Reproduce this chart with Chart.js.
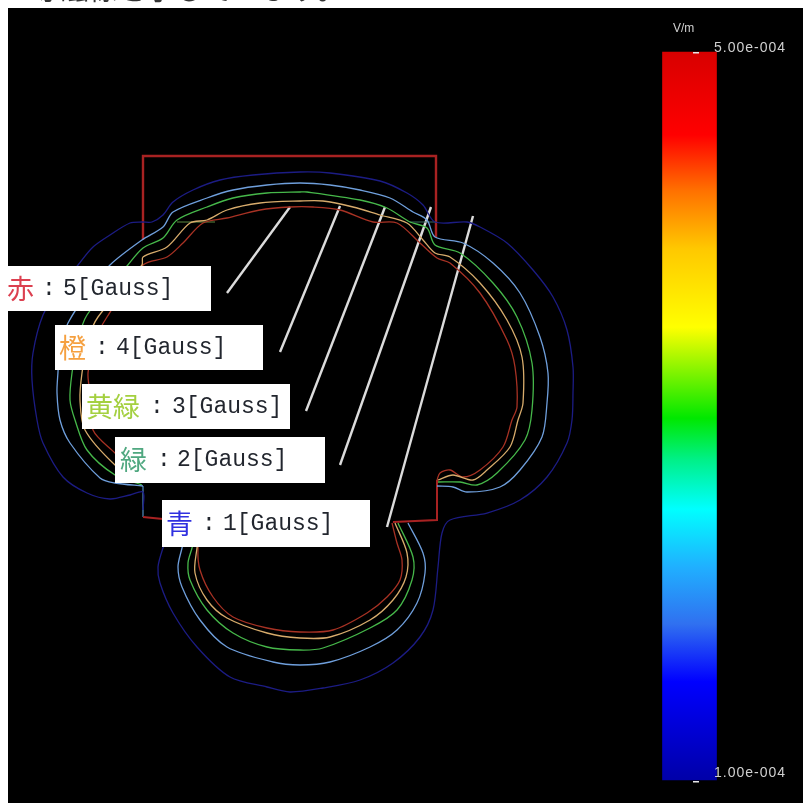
<!DOCTYPE html>
<html>
<head>
<meta charset="utf-8">
<title>contour</title>
<style>
  html, body { margin: 0; padding: 0; background: #fff; }
  canvas { display: block; filter: blur(0.45px); }
</style>
<script src="https://cdn.jsdelivr.net/npm/chart.js@4"></script>
</head>
<body>
<canvas id="plot" width="803" height="803"></canvas>
<script>
// contour lines as [x, y] pairs
const gauss1 = [[143,510],[143,492],[130,495],[110,499],[87,493],[63,477],[43,443],[37,420],[32,380],[33,353],[43,315],[60,288],[78,265],[93,247],[110,235],[130,223],[142,222],[152,222],[163,215],[173,202],[193,190],[220,180],[253,175],[300,172],[330,173],[380,181],[407,193],[423,205],[435,222],[467,222],[480,227],[507,243],[533,270],[553,297],[567,330],[573,367],[573,393],[572,420],[567,443],[547,477],[520,500],[487,513],[450,520],[442,533],[438,567],[433,610],[420,637],[393,663],[360,680],[323,688],[290,692],[267,687],[230,677],[197,647],[173,613],[160,583],[158,567],[163,548],[170,530]];
const gauss2 = [[143,486],[115,483],[100,478],[70,443],[60,420],[57,393],[58,372],[60,345],[68,323],[88,292],[110,265],[142,240],[163,227],[173,212],[207,198],[233,190],[267,185],[300,183],[330,185],[360,190],[390,198],[413,212],[427,220],[435,237],[463,243],[493,263],[520,293],[540,337],[548,373],[547,403],[542,437],[520,470],[500,487],[467,492],[453,487],[437,486]];
const gauss2Lobe = [[408,523],[423,553],[425,573],[417,603],[397,630],[370,647],[330,662],[300,665],[273,662],[227,647],[200,620],[182,587],[178,567],[182,548],[186,530]];
const gauss3 = [[142,485],[115,475],[87,450],[75,420],[70,400],[72,373],[78,340],[87,315],[127,266],[143,248],[163,238],[177,220],[207,207],[233,198],[267,193],[300,192],[307,192],[360,200],[387,208],[410,222],[427,228],[435,245],[460,253],[493,283],[517,317],[532,363],[532,410],[525,440],[497,473],[477,485],[460,482],[438,482]];
const gauss3Lobe = [[398,523],[413,557],[412,580],[397,610],[370,628],[323,648],[300,650],[267,647],[233,633],[207,610],[190,580],[188,563],[192,548],[196,530]];
const gauss4 = [[140,482],[115,465],[85,430],[80,400],[82,373],[88,340],[98,317],[142,265],[143,257],[167,247],[190,223],[207,220],[227,210],[260,203],[300,201],[323,201],[353,207],[380,215],[407,223],[423,240],[435,253],[450,257],[480,283],[507,320],[522,357],[523,403],[518,420],[510,447],[487,470],[473,480],[453,475],[438,480]];
const gauss4Lobe = [[395,523],[407,553],[406,577],[393,600],[370,620],[330,637],[300,638],[267,633],[227,618],[207,600],[195,573],[197,548],[200,530]];
const gauss5 = [[140,478],[115,453],[93,430],[90,393],[88,373],[95,340],[107,317],[143,265],[167,257],[183,243],[203,223],[227,218],[260,210],[290,207],[313,207],[340,210],[373,222],[397,223],[420,243],[437,258],[450,263],[480,293],[507,340],[515,367],[517,407],[512,420],[503,447],[480,470],[463,477],[450,470],[440,473],[437,480]];
const gauss5Lobe = [[392,523],[397,543],[402,560],[400,580],[387,597],[367,613],[333,630],[300,632],[267,628],[233,617],[213,597],[200,570],[198,548],[202,530]];

// red outline of the part
const outlineTop = [[143,240],[143,156],[436,156],[436,237]];
const outlineRight = [[437,480],[437,520],[393,522]];
const outlineLeft = [[143,517],[163,519]];
const outlineLeftUpper = [[143,486],[143,517]];
const midLineLeft = [[177,222],[215,222]];
const midLineRight = [[410,222],[436,222]];

// white pointer lines from the contours to the labels
const pointers = [
  [[290,207],[227,293]],
  [[340,206],[280,352]],
  [[385,207],[306,411]],
  [[431,207],[340,465]],
  [[473,216],[387,527]]
];

// labels
const labelNames = ["赤", "橙", "黄緑", "緑", "青"];
const labelValues = ["5[Gauss]", "4[Gauss]", "3[Gauss]", "2[Gauss]", "1[Gauss]"];

// colour bar
const barRange = [52, 780];
const barCentre = 689.5;
const barStops = [0, 0.114, 0.19, 0.27, 0.378, 0.503, 0.56, 0.628, 0.707, 0.786, 0.865, 1];
const barColors = ["#d80000", "#ff0000", "#ff7000", "#ffc800", "#ffff00", "#00e800", "#00f088", "#00ffff", "#20b0ff", "#3070f0", "#0000ff", "#0000a8"];
const barMax = "5.00e-004";
const barMin = "1.00e-004";
const barUnit = "V/m";

function pts(list) {
  return list.map(function (p) { return { x: p[0], y: p[1] }; });
}

function line(list, color, width, bend) {
  return {
    type: "line",
    data: pts(list),
    borderColor: color,
    borderWidth: width,
    pointRadius: 0,
    tension: bend || 0,
    fill: false
  };
}

const navy = "#1c1c84";
const sky = "#6f9fdc";
const green = "#46b84a";
const tan = "#d8ac6c";
const brick = "#a83224";
const rim = "#a82222";

const datasets = [
  line(gauss1, navy, 1.3, 0.3),
  line(gauss2, sky, 1.3, 0.3),
  line(gauss2Lobe, sky, 1.3, 0.3),
  line(gauss3, green, 1.3, 0.3),
  line(gauss3Lobe, green, 1.3, 0.3),
  line(gauss4, tan, 1.3, 0.3),
  line(gauss4Lobe, tan, 1.3, 0.3),
  line(gauss5, brick, 1.3, 0.3),
  line(gauss5Lobe, brick, 1.3, 0.3),
  line(midLineLeft, "#5c8a40", 1),
  line(midLineRight, "#3c6a60", 1),
  line(outlineTop, rim, 2.4),
  line(outlineRight, rim, 2),
  line(outlineLeft, rim, 2),
  line(outlineLeftUpper, "#4a80b0", 1.3)
];
pointers.forEach(function (p) {
  datasets.push(line(p, "#dcdcdc", 2.4));
});
datasets.push({
  type: "bar",
  data: [{ x: barCentre, y: barRange }],
  barThickness: 54,
  borderWidth: 0,
  backgroundColor: function (ctx) {
    const chart = ctx.chart;
    if (!chart.chartArea) return barColors[0];
    const sy = chart.scales.y;
    const g = chart.ctx.createLinearGradient(0, sy.getPixelForValue(barRange[0]), 0, sy.getPixelForValue(barRange[1]));
    barStops.forEach(function (s, i) { g.addColorStop(s, barColors[i]); });
    return g;
  }
});

// black plot panel and the cut off caption above it
const panel = {
  id: "panel",
  beforeDatasetsDraw: function (chart) {
    const c = chart.ctx;
    c.save();
    c.fillStyle = "#fff";
    c.fillRect(0, 0, 803, 803);
    c.fillStyle = "#333";
    c.font = '29px "Noto Sans CJK JP"';
    c.fillText("等磁線を示しています。", 30, 0);
    c.fillStyle = "#000";
    c.fillRect(8, 8, 795, 795);
    c.restore();
  }
};

// white label boxes and bar captions
const boxes = [
  { x: 8, y: 266, w: 203, h: 45, nameX: 7, colonX: 42, valueX: 63, color: "#dc4050" },
  { x: 55, y: 325, w: 208, h: 45, nameX: 59, colonX: 95, valueX: 116, color: "#f5a040" },
  { x: 82, y: 384, w: 208, h: 45, nameX: 86, colonX: 150, valueX: 172, color: "#a4d040" },
  { x: 115, y: 437, w: 210, h: 46, nameX: 120, colonX: 157, valueX: 177, color: "#50a880" },
  { x: 162, y: 500, w: 208, h: 47, nameX: 166, colonX: 202, valueX: 223, color: "#3030e0" }
];

const notes = {
  id: "notes",
  afterDatasetsDraw: function (chart) {
    const c = chart.ctx;
    c.save();
    c.textBaseline = "middle";
    boxes.forEach(function (b, i) {
      const mid = b.y + b.h / 2;
      c.fillStyle = "#fff";
      c.fillRect(b.x, b.y, b.w, b.h);
      c.fillStyle = b.color;
      c.font = '27px "Noto Sans CJK JP"';
      c.fillText(labelNames[i], b.nameX, mid);
      c.fillStyle = "#22262e";
      c.font = '23px "Liberation Mono"';
      c.fillText(":", b.colonX, mid);
      c.fillText(labelValues[i], b.valueX, mid);
    });
    c.fillStyle = "#d0d0d0";
    c.font = '12px "Liberation Sans"';
    c.fillText(barUnit, 673, 29);
    c.font = '14px "Liberation Sans"';
    c.letterSpacing = "1px";
    c.fillText(barMax, 714, 48);
    c.fillText(barMin, 714, 773);
    c.fillStyle = "#e8e8e8";
    c.fillRect(693, 52, 6, 1.5);
    c.fillRect(693, 781, 6, 1.5);
    c.restore();
  }
};

new Chart(document.getElementById("plot"), {
  data: { datasets: datasets },
  plugins: [panel, notes],
  options: {
    responsive: false,
    animation: false,
    layout: { padding: 0 },
    plugins: { legend: { display: false }, tooltip: { enabled: false } },
    scales: {
      x: { type: "linear", min: 0, max: 803, offset: false, display: false },
      y: { type: "linear", min: 0, max: 803, reverse: true, display: false }
    }
  }
});
</script>
</body>
</html>
